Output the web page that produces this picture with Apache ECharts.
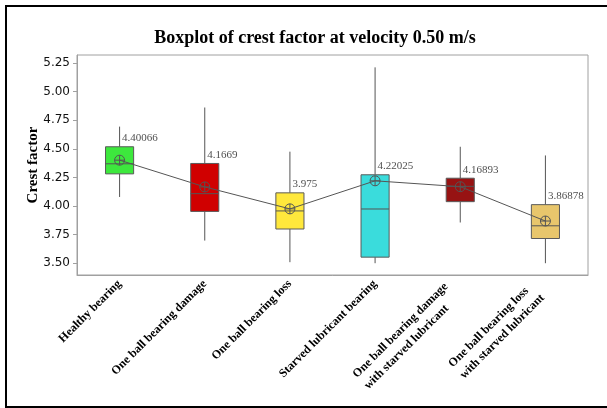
<!DOCTYPE html>
<html>
<head>
<meta charset="utf-8">
<script src="https://cdn.jsdelivr.net/npm/echarts@6/dist/echarts.min.js"></script>
<style>html,body{margin:0;padding:0;background:#fff;}#c{width:607px;height:408px;}</style>
</head>
<body>
<div id="c"></div>
<script>
var categories = ['Healthy bearing', 'One ball bearing damage', 'One ball bearing loss', 'Starved lubricant bearing', 'One ball bearing damage\nwith starved lubricant', 'One ball bearing loss\nwith starved lubricant'];
var whiskerLow = [4.079, 3.698, 3.509, 3.500, 3.856, 3.500];
var q1 = [4.281, 3.953, 3.799, 3.553, 4.038, 3.716];
var medians = [4.369, 4.108, 3.957, 3.974, 4.172, 3.827];
var q3 = [4.518, 4.372, 4.115, 4.273, 4.243, 4.012];
var whiskerHigh = [4.694, 4.861, 4.475, 5.212, 4.518, 4.442];
var means = [4.40066, 4.1669, 3.975, 4.22025, 4.16893, 3.86878];
var yTicks = [3.50, 3.75, 4.00, 4.25, 4.50, 4.75, 5.00, 5.25];

var boxColors = ['#3de83d', '#d00000', '#ffe83c', '#3adcdc', '#971313', '#e8c66c'];

var boxData = categories.map(function (c, i) {
  return [i, whiskerLow[i], q1[i], medians[i], q3[i], whiskerHigh[i]];
});

var chart = echarts.init(document.getElementById('c'), null, {renderer: 'canvas'});
var option = {
  animation: false,
  title: {
    text: 'Boxplot of crest factor at velocity 0.50 m/s',
    left: 310, top: 24, textAlign: 'center',
    textStyle: {fontFamily: 'Liberation Serif', fontWeight: 'bold', fontSize: 18, color: '#000'}
  },
  graphic: [{
    type: 'rect', shape: {x: 6, y: 6, width: 700, height: 401},
    style: {fill: 'none', stroke: '#000', lineWidth: 2}, silent: true
  }],
  grid: {left: 77, right: 19, top: 55, bottom: 133, show: true, borderColor: '#a0a0a0', borderWidth: 1, backgroundColor: 'transparent'},
  xAxis: {
    type: 'category', data: categories, boundaryGap: true,
    axisLine: {lineStyle: {color: '#a0a0a0'}},
    axisTick: {alignWithLabel: true, length: 4, lineStyle: {color: '#a0a0a0'}},
    axisLabel: {
      rotate: 45, margin: 7, interval: 0, fontFamily: 'Liberation Serif', fontWeight: 'bold', fontSize: 12, color: '#000', lineHeight: 16,
      formatter: function (v) {
        if (v.indexOf('\n') < 0) return v;
        return v.split('\n').map(function (s) { return '{m|' + s + '}'; }).join('\n');
      },
      rich: {m: {fontFamily: 'Liberation Serif', fontWeight: 'bold', fontSize: 12, color: '#000', lineHeight: 16, align: 'left', padding: [0, 12, 0, 0]}}
    },
    splitLine: {show: false}
  },
  yAxis: {
    type: 'value', min: 3.397, max: 5.32,
    name: 'Crest factor', nameLocation: 'middle', nameGap: 36, nameRotate: 90, nameMoveOverlap: false,
    nameTextStyle: {fontFamily: 'Liberation Serif', fontWeight: 'bold', fontSize: 15, color: '#000'},
    axisLine: {show: true, lineStyle: {color: '#a0a0a0'}},
    axisTick: {show: true, length: 4, lineStyle: {color: '#a0a0a0'}, customValues: yTicks},
    axisLabel: {customValues: yTicks, margin: 7, fontFamily: 'DejaVu Sans', fontSize: 12, color: '#111',
      formatter: function (v) { return v.toFixed(2); }},
    splitLine: {show: false}
  },
  series: [
    {
      type: 'custom',
      data: boxData,
      encode: {x: 0, y: [1, 2, 3, 4, 5]},
      renderItem: function (params, api) {
        var x = api.value(0);
        var pLo = api.coord([x, api.value(1)]);
        var pQ1 = api.coord([x, api.value(2)]);
        var pMed = api.coord([x, api.value(3)]);
        var pQ3 = api.coord([x, api.value(4)]);
        var pHi = api.coord([x, api.value(5)]);
        var w = api.size([1, 0])[0] * 0.33;
        var cx = pQ1[0];
        var stroke = '#555';
        return {
          type: 'group',
          children: [
            {type: 'line', shape: {x1: cx, y1: pLo[1], x2: cx, y2: pQ1[1]}, style: {stroke: stroke, lineWidth: 1}},
            {type: 'line', shape: {x1: cx, y1: pQ3[1], x2: cx, y2: pHi[1]}, style: {stroke: stroke, lineWidth: 1}},
            {type: 'rect', shape: {x: cx - w / 2, y: pQ3[1], width: w, height: pQ1[1] - pQ3[1]},
              style: {fill: boxColors[params.dataIndex], stroke: '#5a5a5a', lineWidth: 1}},
            {type: 'line', shape: {x1: cx - w / 2, y1: pMed[1], x2: cx + w / 2, y2: pMed[1]}, style: {stroke: '#555', lineWidth: 1}}
          ]
        };
      },
      z: 2
    },
    {
      type: 'line',
      data: means,
      symbol: 'path://M0,5 A5,5 0 1,1 10,5 A5,5 0 1,1 0,5 Z M0,5 L10,5 M5,0 L5,10',
      symbolSize: 10,
      showAllSymbol: true,
      lineStyle: {color: '#555', width: 1},
      itemStyle: {color: 'rgba(0,0,0,0)', borderColor: '#555', borderWidth: 1},
      z: 3
    },
    {
      type: 'scatter',
      data: q3.map(function (v, i) { return [i, v]; }),
      symbolSize: 1,
      itemStyle: {color: 'rgba(0,0,0,0)'},
      label: {
        show: true, position: [3, -8], align: 'left', verticalAlign: 'middle',
        fontFamily: 'Liberation Serif', fontSize: 11, color: '#222',
        formatter: function (p) { return String(means[p.dataIndex]); }
      },
      z: 4
    }
  ]
};
chart.setOption(option);
</script>
</body>
</html>
